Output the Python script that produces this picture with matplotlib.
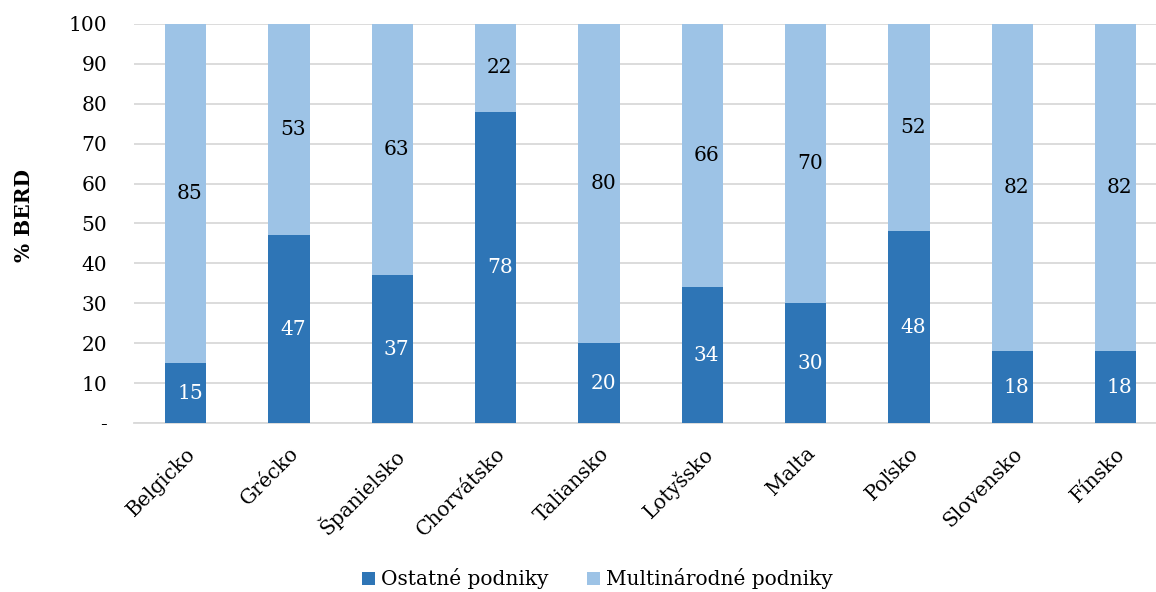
import numpy as np
import matplotlib
matplotlib.use("Agg")
import matplotlib.pyplot as plt

countries = ["Belgicko", "Grécko", "Španielsko", "Chorvátsko", "Taliansko",
             "Lotyšsko", "Malta", "Poľsko", "Slovensko", "Fínsko"]
ostatne = [15, 47, 37, 78, 20, 34, 30, 48, 18, 18]
multi = [85, 53, 63, 22, 80, 66, 70, 52, 82, 82]

plt.rcParams['font.family'] = ['DejaVu Serif']
fs = 14.5

fig = plt.figure(figsize=(11.56, 5.92), dpi=100)
ax = fig.add_axes([0.116, 0.2855, 0.884, 0.674])

x = np.arange(len(countries))
w = 0.4
b1 = ax.bar(x, ostatne, w, color='#2E75B6', label='Ostatné podniky', zorder=3)
b2 = ax.bar(x, multi, w, bottom=ostatne, color='#9DC3E6', label='Multinárodné podniky', zorder=3)

# data labels, slightly right of bar centre like Excel
for i in range(len(x)):
    ax.text(x[i] + 0.04, ostatne[i] / 2, str(ostatne[i]), ha='center', va='center',
            color='white', fontsize=fs, zorder=4)
    ax.text(x[i] + 0.04, ostatne[i] + multi[i] / 2, str(multi[i]), ha='center', va='center',
            color='black', fontsize=fs, zorder=4)

ax.set_ylim(0, 100)
ax.set_xlim(-0.5, 9.39)
ax.set_yticks(range(0, 101, 10))
ax.set_yticklabels(['-'] + [str(v) for v in range(10, 101, 10)], fontsize=fs)
ax.set_xticks(x)
ax.set_xticklabels(countries, rotation=45, ha='right', rotation_mode='anchor', fontsize=fs)
ax.tick_params(axis='x', length=0, pad=15)
ax.tick_params(axis='y', length=0, pad=19.5)
ax.grid(axis='y', color='#D9D9D9', linewidth=1.3, zorder=0)
for s in ['top', 'right', 'left']:
    ax.spines[s].set_visible(False)
ax.spines['bottom'].set_color('#D9D9D9')
ax.spines['bottom'].set_linewidth(1.3)
ax.set_ylabel('% BERD', fontsize=fs, fontweight='bold')
ax.yaxis.set_label_coords(-0.098, 0.52)

fig.legend(handles=[b1, b2], loc='center', bbox_to_anchor=(0.517, 0.022), ncol=2,
           frameon=False, fontsize=fs, handlelength=0.65, handleheight=0.65,
           columnspacing=1.9, handletextpad=0.3)

fig.savefig('out.png', dpi=100)
